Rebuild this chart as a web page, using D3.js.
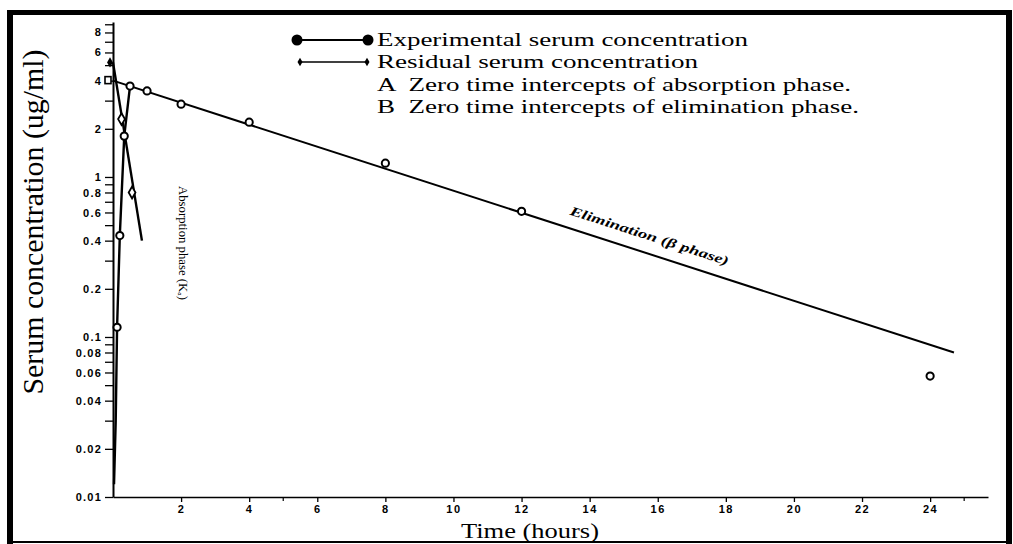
<!DOCTYPE html>
<html>
<head>
<meta charset="utf-8">
<script src="https://cdn.jsdelivr.net/npm/d3@7"></script>
<style>
  html, body { margin: 0; padding: 0; background: #fff; }
  svg { display: block; }
</style>
</head>
<body>
<svg id="chart" width="1013" height="544"></svg>
<script>
// ---------------- data ----------------
const expTime = [0.03, 0.08, 0.12, 0.2, 0.33, 0.5, 1, 2, 4, 8, 12, 24];
const expConc = [0.012, 0.03, 0.115, 0.43, 1.8, 3.7, 3.45, 2.85, 2.2, 1.22, 0.61, 0.057];
// rising (absorption) part of experimental curve: indices 0..5
const riseCount = 6;
// elimination (beta phase) fitted line
const elimTime = [0, 24.7];
const elimConc = [4.0, 0.08];
// residual line
const resTime = [0, 0.25, 0.56, 0.85];
const resConc = [5.2, 2.3, 0.8, 0.4];
const resMarkIdx = [1, 2];
// intercepts
const interceptA = 5.2;
const interceptB = 4.0;

const xTickValues = [2, 4, 6, 8, 10, 12, 14, 16, 18, 20, 22, 24];
const xMinorTicks = [5, 25];
const yTickValues = [0.01,0.02,0.03,0.04,0.05,0.06,0.07,0.08,0.09,
                     0.1,0.2,0.3,0.4,0.5,0.6,0.7,0.8,0.9,
                     1,2,3,4,5,6,7,8,9];
const yLabelValues = [0.01,0.02,0.04,0.06,0.08,0.1,0.2,0.4,0.6,0.8,1,2,4,6,8];
const yLabelTexts  = ["0.01","0.02","0.04","0.06","0.08","0.1","0.2","0.4","0.6","0.8","1","2","4","6","8"];

const legendLabels = [
  "Experimental serum concentration",
  "Residual serum concentration",
  "A  Zero time intercepts of absorption phase.",
  "B  Zero time intercepts of elimination phase."
];
const legendWidths = [371, 321, 474, 482];

const xTitle = "Time (hours)";
const yTitle = "Serum concentration (ug/ml)";
const absorptionLabel = "Absorption phase (K\u2090)";
const eliminationLabel = "Elimination (\u03B2 phase)";

// ---------------- drawing ----------------
const svg = d3.select("#chart");
const serif = "'Liberation Serif', 'Times New Roman', serif";
const sans = "'Liberation Sans', Arial, sans-serif";

const x = d3.scaleLinear().domain([0, 25.7]).range([113, 988]);
const y = d3.scaleLog().domain([0.01, 9.3]).range([497, 22]);

// frame
svg.append("rect").attr("x", 7).attr("y", 10).attr("width", 6).attr("height", 534).attr("fill", "#000");
svg.append("rect").attr("x", 7).attr("y", 10).attr("width", 1005).attr("height", 5).attr("fill", "#000");
svg.append("rect").attr("x", 1006).attr("y", 10).attr("width", 6).attr("height", 534).attr("fill", "#000");
svg.append("rect").attr("x", 7).attr("y", 541).attr("width", 1005).attr("height", 2).attr("fill", "#000");

// y axis
const yAxis = d3.axisLeft(y)
  .tickValues(yTickValues)
  .tickSize(8)
  .tickSizeOuter(0)
  .tickPadding(3)
  .tickFormat(d => {
    const i = yLabelValues.findIndex(v => Math.abs(v - d) < 1e-9);
    return i >= 0 ? yLabelTexts[i] : "";
  });
const gy = svg.append("g").attr("transform", `translate(${x(0)},0)`).call(yAxis);
gy.select(".domain").attr("stroke", "#000").attr("stroke-width", 2);
gy.selectAll(".tick line").attr("stroke", "#000").attr("stroke-width", 1.3);
gy.selectAll(".tick text").attr("font-family", sans).attr("font-size", 11)
  .attr("font-weight", "bold").attr("letter-spacing", 1.2).attr("fill", "#000");

// x axis
const xAxis = d3.axisBottom(x)
  .tickValues(xTickValues)
  .tickSize(5)
  .tickSizeOuter(0)
  .tickPadding(3)
  .tickFormat(d3.format("d"));
const gx = svg.append("g").attr("transform", `translate(0,${y(0.01)})`).call(xAxis);
gx.select(".domain").attr("stroke", "#000").attr("stroke-width", 1.6);
gx.selectAll(".tick line").attr("stroke", "#000").attr("stroke-width", 1.3);
gx.selectAll(".tick text").attr("font-family", sans).attr("font-size", 11)
  .attr("font-weight", "bold").attr("letter-spacing", 1.5).attr("fill", "#000");
svg.append("g").selectAll("line").data(xMinorTicks).join("line")
  .attr("x1", d => x(d)).attr("x2", d => x(d))
  .attr("y1", y(0.01)).attr("y2", y(0.01) + 4)
  .attr("stroke", "#000").attr("stroke-width", 1.2);

// axis titles
svg.append("text")
  .attr("x", 530).attr("y", 538)
  .attr("text-anchor", "middle")
  .attr("font-family", serif).attr("font-size", 20)
  .attr("textLength", 138).attr("lengthAdjust", "spacingAndGlyphs")
  .text(xTitle);
svg.append("text")
  .attr("transform", "translate(43,222) rotate(-90)")
  .attr("text-anchor", "middle")
  .attr("font-family", serif).attr("font-size", 29)
  .attr("textLength", 345).attr("lengthAdjust", "spacingAndGlyphs")
  .text(yTitle);

const line = d3.line().x(d => x(d[0])).y(d => y(d[1]));

// elimination fitted line
const elimPts = elimTime.map((t, i) => [t, elimConc[i]]);
svg.append("path").attr("d", line(elimPts))
  .attr("fill", "none").attr("stroke", "#000").attr("stroke-width", 2);

// rising experimental curve
const expPts = expTime.map((t, i) => [t, expConc[i]]);
svg.append("path").attr("d", line(expPts.slice(0, riseCount)))
  .attr("fill", "none").attr("stroke", "#000").attr("stroke-width", 2.4);

// residual line
const resPts = resTime.map((t, i) => [t, resConc[i]]);
svg.append("path").attr("d", line([resPts[0], resPts[resPts.length - 1]]))
  .attr("fill", "none").attr("stroke", "#000").attr("stroke-width", 2.4);

// experimental points
svg.append("g").selectAll("circle").data(expPts.slice(2)).join("circle")
  .attr("cx", d => x(d[0])).attr("cy", d => y(d[1]))
  .attr("r", 3.6)
  .attr("fill", "#fff").attr("stroke", "#000").attr("stroke-width", 2);

// residual points (diamonds)
svg.append("g").selectAll("path").data(resMarkIdx.map(i => resPts[i])).join("path")
  .attr("d", d3.symbol().type(d3.symbolDiamond).size(40))
  .attr("transform", d => `translate(${x(d[0])},${y(d[1])})`)
  .attr("fill", "#fff").attr("stroke", "#000").attr("stroke-width", 1.8);

// intercept markers
svg.append("rect")
  .attr("x", x(0) - 8).attr("y", y(interceptB) - 4)
  .attr("width", 6).attr("height", 7)
  .attr("fill", "#fff").attr("stroke", "#000").attr("stroke-width", 1.6);
svg.append("path")
  .attr("d", d3.symbol().type(d3.symbolDiamond).size(30))
  .attr("transform", `translate(${x(0) - 3},${y(interceptA)})`)
  .attr("fill", "#000");

// annotations
svg.append("text")
  .attr("transform", "translate(179,186) rotate(90)")
  .attr("font-family", serif).attr("font-size", 13)
  .attr("textLength", 114).attr("lengthAdjust", "spacingAndGlyphs")
  .text(absorptionLabel);

const ang = Math.atan2(y(elimConc[1]) - y(elimConc[0]), x(elimTime[1]) - x(elimTime[0])) * 180 / Math.PI;
const tMid = 15.6;
const cMid = Math.exp(Math.log(elimConc[0]) + (Math.log(elimConc[1]) - Math.log(elimConc[0])) * (tMid - elimTime[0]) / (elimTime[1] - elimTime[0]));
svg.append("text")
  .attr("transform", `translate(${x(tMid)},${y(cMid)}) rotate(${ang}) translate(0,-13)`)
  .attr("text-anchor", "middle")
  .attr("font-family", serif).attr("font-size", 13)
  .attr("font-style", "italic").attr("font-weight", "bold")
  .attr("textLength", 166).attr("lengthAdjust", "spacingAndGlyphs")
  .text(eliminationLabel);

// legend
const lg = svg.append("g");
const rowY = [40, 62, 85, 107];
lg.append("line").attr("x1", 297).attr("x2", 368).attr("y1", rowY[0]).attr("y2", rowY[0])
  .attr("stroke", "#000").attr("stroke-width", 2);
lg.selectAll("circle.lgc").data([297, 368]).join("circle").attr("class", "lgc")
  .attr("cx", d => d).attr("cy", rowY[0]).attr("r", 5.5).attr("fill", "#000");
lg.append("line").attr("x1", 300).attr("x2", 367).attr("y1", rowY[1]).attr("y2", rowY[1])
  .attr("stroke", "#000").attr("stroke-width", 1.3);
lg.selectAll("path.lgd").data([300, 367]).join("path").attr("class", "lgd")
  .attr("d", d3.symbol().type(d3.symbolDiamond).size(22))
  .attr("transform", d => `translate(${d},${rowY[1]})`).attr("fill", "#000");
lg.selectAll("text").data(legendLabels).join("text")
  .attr("x", 377).attr("y", (d, i) => rowY[i] + 6)
  .attr("font-family", serif).attr("font-size", 19)
  .attr("textLength", (d, i) => legendWidths[i]).attr("lengthAdjust", "spacingAndGlyphs")
  .attr("xml:space", "preserve")
  .style("white-space", "pre")
  .text(d => d);
</script>
</body>
</html>
